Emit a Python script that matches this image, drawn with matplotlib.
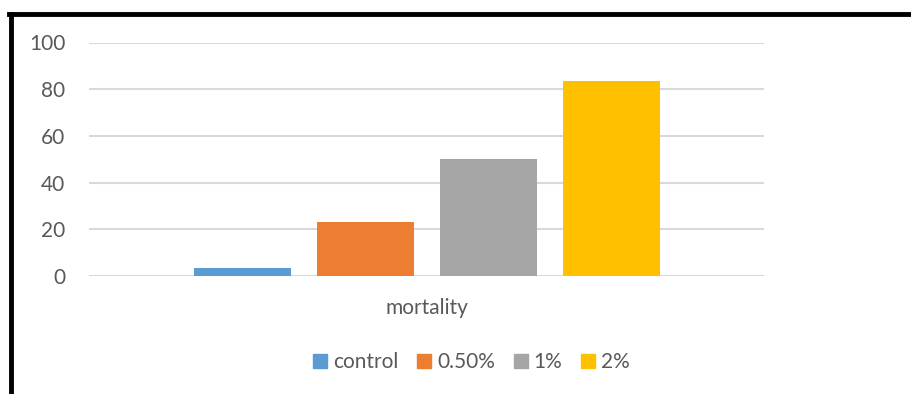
import matplotlib
matplotlib.use("Agg")
import matplotlib.pyplot as plt
from matplotlib.lines import Line2D

series = ["control", "0.50%", "1%", "2%"]
values = [3.33, 23.33, 50, 83.33]
colors = ["#5B9BD5", "#ED7D31", "#A5A5A5", "#FFC000"]
category = "mortality"
yticks = [0, 20, 40, 60, 80, 100]

plt.rcParams['font.family'] = ['Lato', 'DejaVu Sans']
txt = "#595959"

fig = plt.figure(figsize=(9.11, 3.94), dpi=100)
ax = fig.add_axes([89/911, 1-276/394, 675/911, (276-42.5)/394])

x = list(range(len(series)))
ax.bar(x, values, width=97/123, color=colors, zorder=3)
half = 675/123/2
ax.set_xlim(1.5-half, 1.5+half)
ax.set_ylim(0, 100)
ax.set_yticks(yticks)
ax.set_yticklabels([str(t) for t in yticks], color=txt, fontsize=15)
ax.set_xticks([])
ax.tick_params(axis='y', length=0, pad=17)
for s in ax.spines.values():
    s.set_visible(False)
ax.grid(axis='y', color='#D9D9D9', linewidth=1.5, zorder=0)
ax.set_axisbelow(True)
ax.text(0.5, -0.135, category, transform=ax.transAxes, ha='center', va='center',
        color=txt, fontsize=15)

handles = [Line2D([0], [0], marker='s', linestyle='', markersize=9.5, color=c) for c in colors]
fig.legend(handles, series, loc='center', bbox_to_anchor=(471/911, 1-362/394), ncol=4,
           frameon=False, fontsize=15, labelcolor=txt, handlelength=0.75,
           handletextpad=0.25, columnspacing=0.85)

# outer frame (left and top visible)
fig.add_artist(Line2D([11/911, 11/911], [0, 1-14/394], color='black', linewidth=3.5,
                      transform=fig.transFigure))
fig.add_artist(Line2D([9/911, 1], [1-14/394, 1-14/394], color='black', linewidth=3.5,
                      transform=fig.transFigure))

fig.savefig("out.png", dpi=100)
